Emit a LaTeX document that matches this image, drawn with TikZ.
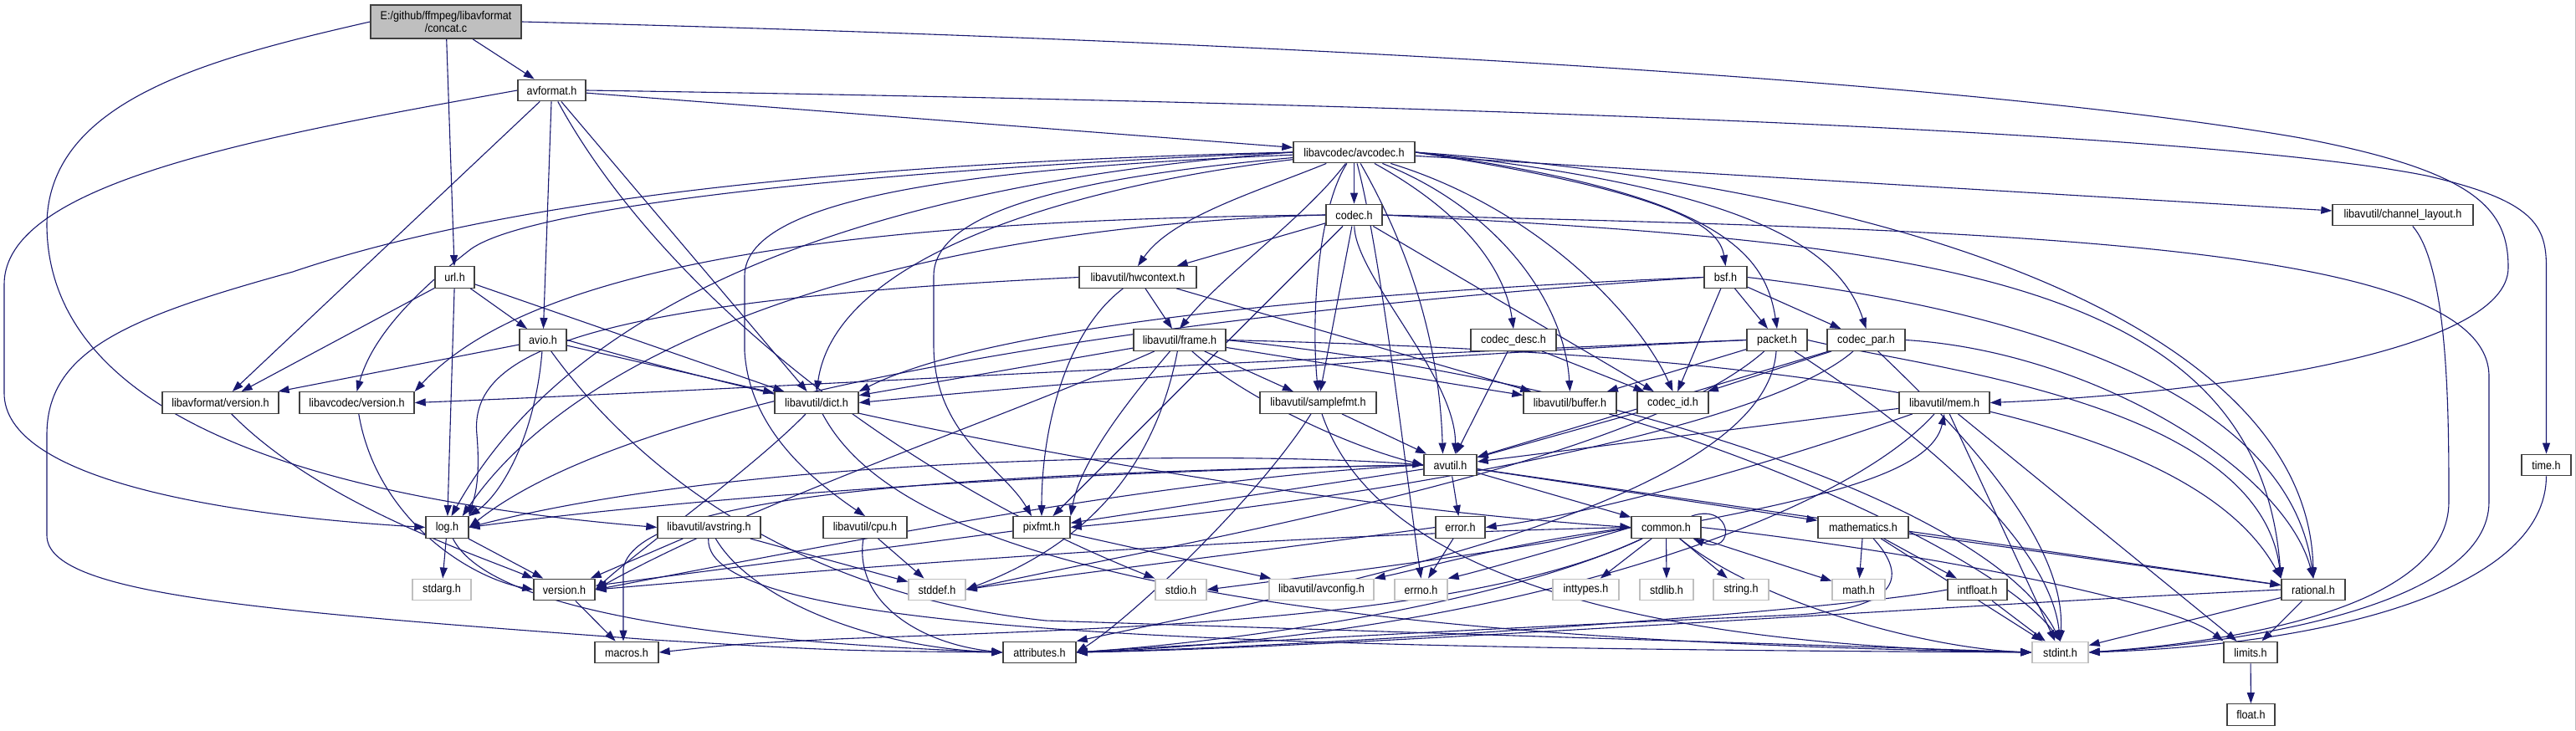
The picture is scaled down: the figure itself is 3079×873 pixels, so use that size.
\documentclass[tikz,border=0pt]{standalone}
\usepackage{fontspec}
\setmainfont{Liberation Sans}[FakeStretch=0.9]
\usetikzlibrary{arrows.meta,calc}
\definecolor{eb}{HTML}{191970}
\definecolor{nbd}{HTML}{404040}
\definecolor{gbd}{HTML}{BFBFBF}
\pgfdeclarelayer{back}
\pgfdeclarelayer{bg}
\pgfsetlayers{back,bg,main}
\tikzset{
  nb/.style={draw=nbd, line width=1.4pt, fill=white, inner sep=0pt, minimum height=25.5pt, font=\fontsize{14}{15.5}\selectfont},
  ng/.style={nb, draw=gbd},
  nr/.style={nb, fill=gbd, minimum height=40pt, align=center},
  e/.style={draw=eb, line width=1.1pt, -{Triangle[length=13pt,width=9pt]}},
}
\begin{document}
\begin{tikzpicture}[x=1pt,y=-1pt]
\useasboundingbox (0,0) rectangle (3079,873);
\begin{pgfonlayer}{back}
\fill[white] (0,0) rectangle (3079,873);
\draw[gbd, line width=0.8pt] (3078,0) -- (3078,873);
\end{pgfonlayer}
% nodes
\node[nr, minimum width=180pt] (concat) at (533,26) {E:/github/ffmpeg/libavformat\\/concat.c};
\node[nb, minimum width=81pt] (avformat) at (659.5,108) {avformat.h};
\node[nb, minimum width=145pt] (avcodec) at (1618.5,182) {libavcodec/avcodec.h};
\node[nb, minimum width=67pt] (codec) at (1618.5,257) {codec.h};
\node[nb, minimum width=168pt] (chlayout) at (2872,257) {libavutil/channel\_layout.h};
\node[nb, minimum width=47pt] (url) at (543.5,331.5) {url.h};
\node[nb, minimum width=140pt] (hwcontext) at (1360,331.5) {libavutil/hwcontext.h};
\node[nb, minimum width=51pt] (bsf) at (2062.5,331.5) {bsf.h};
\node[nb, minimum width=56pt] (avio) at (649,406.5) {avio.h};
\node[nb, minimum width=110pt] (frame) at (1410,406.5) {libavutil/frame.h};
\node[nb, minimum width=102pt] (codecdesc) at (1809,406.5) {codec\_desc.h};
\node[nb, minimum width=72pt] (packet) at (2124,406.5) {packet.h};
\node[nb, minimum width=93pt] (codecpar) at (2230.5,406.5) {codec\_par.h};
\node[nb, minimum width=139pt] (lavfversion) at (263.5,481.5) {libavformat/version.h};
\node[nb, minimum width=137pt] (lavcversion) at (426.5,481.5) {libavcodec/version.h};
\node[nb, minimum width=100pt] (dict) at (976,481.5) {libavutil/dict.h};
\node[nb, minimum width=139pt] (samplefmt) at (1575.5,481.5) {libavutil/samplefmt.h};
\node[nb, minimum width=111pt] (buffer) at (1876.5,481.5) {libavutil/buffer.h};
\node[nb, minimum width=85pt] (codecid) at (1999.5,481.5) {codec\_id.h};
\node[nb, minimum width=108pt] (mem) at (2324,481.5) {libavutil/mem.h};
\node[nb, minimum width=63pt] (avutil) at (1733.5,556) {avutil.h};
\node[nb, minimum width=59pt] (time) at (3043.5,556) {time.h};
\node[nb, minimum width=51pt] (log) at (534.5,630.5) {log.h};
\node[nb, minimum width=123pt] (avstring) at (847.5,630.5) {libavutil/avstring.h};
\node[nb, minimum width=100pt] (cpu) at (1034,630.5) {libavutil/cpu.h};
\node[nb, minimum width=68pt] (pixfmt) at (1245,630.5) {pixfmt.h};
\node[nb, minimum width=59pt] (error) at (1745.5,630.5) {error.h};
\node[nb, minimum width=83pt] (common) at (1991.5,630.5) {common.h};
\node[nb, minimum width=108pt] (mathematics) at (2227,630.5) {mathematics.h};
\node[ng, minimum width=70pt] (stdarg) at (528,705) {stdarg.h};
\node[nb, minimum width=73pt] (version) at (674.5,705) {version.h};
\node[ng, minimum width=68pt] (stddef) at (1120,705) {stddef.h};
\node[ng, minimum width=61pt] (stdio) at (1411.5,705) {stdio.h};
\node[ng, minimum width=125pt] (avconfig) at (1579.5,705) {libavutil/avconfig.h};
\node[ng, minimum width=63pt] (errno) at (1698.5,705) {errno.h};
\node[ng, minimum width=79pt] (inttypes) at (1895.5,705) {inttypes.h};
\node[ng, minimum width=64pt] (stdlib) at (1992,705) {stdlib.h};
\node[ng, minimum width=66pt] (string) at (2081,705) {string.h};
\node[ng, minimum width=63pt] (math) at (2221.5,705) {math.h};
\node[nb, minimum width=71pt] (intfloat) at (2363.5,705) {intfloat.h};
\node[nb, minimum width=76pt] (rational) at (2765,705) {rational.h};
\node[nb, minimum width=76pt] (macros) at (749,780) {macros.h};
\node[nb, minimum width=87pt] (attributes) at (1242.5,780) {attributes.h};
\node[ng, minimum width=67pt] (stdint) at (2462.5,780) {stdint.h};
\node[nb, minimum width=64pt] (limits) at (2690,780) {limits.h};
\node[nb, minimum width=57pt] (float) at (2690.5,854.5) {float.h};

\begin{pgfonlayer}{bg}
% concat.c
\draw[e] (concat) -- (avformat);
\draw[e] (concat) -- (url);
\draw[e] (concat.east) .. controls (1500,48) and (2350,95) .. (2750,165) .. controls (2960,205) and (2998,250) .. (2998,320) .. controls (2998,420) and (2650,470) .. (mem.east);
\draw[e] (concat.west) .. controls (250,70) and (56,120) .. (56,270) .. controls (58,470) and (300,590) .. (avstring.west);
% avformat.h
\draw[e] (avformat) -- (avcodec);
\draw[e] (avformat.east) .. controls (1500,120) and (2600,150) .. (2900,210) .. controls (3030,240) and (3043.5,270) .. (3043.5,320) -- (time.north);
\draw[e] (avformat.west) .. controls (300,165) and (5,220) .. (5,340) -- (5,470) .. controls (5,570) and (250,615) .. (log.west);
\draw[e] (avformat) -- (lavfversion);
\draw[e] (avformat) -- (avio);
\draw[e] (avformat) -- (dict);
\draw[e] (avformat) .. controls (780,330) and (1050,560) .. (stdio.north west);
% url.h
\draw[e] (url) -- (avio);
\draw[e] (url) -- (lavfversion);
\draw[e] (url) -- (log);
\draw[e] (url) -- (dict);
% avio.h
\draw[e] (avio) -- (lavfversion);
\draw[e] (avio) -- (dict);
\draw[e] (avio.east) .. controls (1000,500) and (1500,600) .. (common.west);
\draw[e] (avio) .. controls (640,520) and (600,590) .. (log.north east);
\draw[e] (avio) .. controls (760,560) and (950,710) .. (1250,742) .. controls (1800,760) and (2200,772) .. (stdint.west);
% version headers
\draw[e] (lavfversion) .. controls (380,600) and (560,660) .. (version.north west);
\draw[e] (lavcversion) .. controls (450,620) and (560,690) .. (version.west);
% avcodec.h
\draw[e] (avcodec) -- (codec);
\draw[e] (avcodec) -- (chlayout);
\draw[e] (avcodec.west) .. controls (1000,195) and (600,240) .. (350,325) .. controls (150,380) and (56,420) .. (56,520) -- (56,640) .. controls (56,710) and (300,730) .. (780,765) .. controls (1000,778) .. (attributes.west);
\draw[e] (avcodec.west) .. controls (1000,205) and (620,250) .. (560,300) .. controls (470,370) and (440,420) .. (lavcversion.north);
\draw[e] (avcodec.west) .. controls (1100,215) and (700,330) .. ($(log.north)+(5,0)$);
\draw[e] (avcodec) .. controls (1300,220) and (1000,300) .. (dict.north);
\draw[e] (avcodec) .. controls (1200,200) and (890,230) .. (890,330) -- (890,420) .. controls (895,500) and (950,560) .. (cpu.north);
\draw[e] (avcodec) .. controls (1250,215) and (1116,260) .. (1116,330) -- (1116,413) .. controls (1116,520) and (1200,560) .. ($(pixfmt.north)+(-12,0)$);
\draw[e] (avcodec) .. controls (1500,230) and (1400,260) .. (hwcontext.north);
\draw[e] (avcodec) .. controls (1560,260) and (1460,330) .. (frame.north);
\draw[e] (avcodec) .. controls (1575,250) and (1567,380) .. (samplefmt.north);
\draw[e] (avcodec) .. controls (1680,290) and (1720,400) .. ($(avutil.north)+(-9,0)$);
\draw[e] (avcodec) .. controls (1760,260) and (1800,330) .. (codecdesc.north);
\draw[e] (avcodec) .. controls (1790,250) and (1870,360) .. (buffer.north);
\draw[e] (avcodec) .. controls (1840,250) and (1960,380) .. (codecid.north);
\draw[e] (avcodec.east) .. controls (2000,230) and (2055,270) .. (bsf.north);
\draw[e] (avcodec.east) .. controls (2050,230) and (2110,300) .. (packet.north);
\draw[e] (avcodec.east) .. controls (2100,225) and (2200,300) .. (codecpar.north);
\draw[e] (avcodec.east) .. controls (2300,225) and (2760,400) .. (rational.north);
\draw[e] (avcodec) .. controls (1650,300) and (1680,560) .. (errno.north);
% codec.h
\draw[e] (codec) -- (hwcontext);
\draw[e] (codec) .. controls (1620,330) and (1740,450) .. ($(avutil.north)+(6,0)$);
\draw[e] (codec) -- (samplefmt);
\draw[e] (codec) -- (codecid);
\draw[e] (codec) -- (pixfmt);
\draw[e] (codec.west) .. controls (1100,270) and (700,400) .. ($(log.north east)+(-8,0)$);
\draw[e] (codec.west) .. controls (1100,262) and (650,300) .. (lavcversion.north east);
\draw[e] (codec.east) .. controls (2300,290) and (2700,330) .. (rational.north west);
\draw[e] (codec.east) .. controls (2400,275) and (2975,290) .. (2975,450) -- (2975,600) .. controls (2975,720) and (2700,768) .. (stdint.east);
% hwcontext.h
\draw[e] (hwcontext) -- (frame);
\draw[e] (hwcontext) -- (buffer);
\draw[e] (hwcontext.west) .. controls (700,360) and (560,420) .. (570,520) .. controls (575,580) and (565,600) .. (log.north east);
\draw[e] (hwcontext) .. controls (1270,400) and (1245,520) .. (pixfmt.north);
% frame.h
\draw[e] (frame) -- (dict);
\draw[e] (frame) -- (samplefmt);
\draw[e] (frame) -- (buffer);
\draw[e] (frame) .. controls (1480,470) and (1600,530) .. (avutil.west);
\draw[e] (frame) .. controls (1330,500) and (1290,560) .. (pixfmt.north east);
\draw[e] (frame) .. controls (1380,560) and (1300,650) .. (stddef.east);
\draw[e] (frame) .. controls (1200,500) and (900,600) .. (version.east);
\draw[e] (frame.east) .. controls (2000,420) and (2600,460) .. (rational.north west);
\draw[e] (frame.east) .. controls (1900,450) and (2380,600) .. (stdint.north);
% bsf.h
\draw[e] (bsf) -- (packet);
\draw[e] (bsf) -- (codecpar);
\draw[e] (bsf) -- (codecid);
\draw[e] (bsf.west) .. controls (1700,345) and (1200,380) .. (dict.north east);
\draw[e] (bsf.west) .. controls (1600,360) and (800,440) .. (log.east);
\draw[e] (bsf.east) .. controls (2500,380) and (2740,500) .. (rational.north);
% codec_desc.h
\draw[e] (codecdesc) -- (avutil);
\draw[e] (codecdesc) -- (codecid);
% packet.h
\draw[e] (packet) -- (buffer);
\draw[e] (packet.west) .. controls (1700,425) and (1300,455) .. (dict.east);
\draw[e] (packet.west) .. controls (1500,430) and (900,465) .. (lavcversion.east);
\draw[e] (packet) .. controls (2110,600) and (1600,700) .. (attributes.north east);
\draw[e] (packet) .. controls (1950,560) and (1400,650) .. (stddef.east);
\draw[e] (packet) .. controls (2300,520) and (2450,650) .. (stdint.north);
\draw[e] (packet.east) .. controls (2300,440) and (2700,480) .. (rational.north west);
% codec_par.h
\draw[e] (codecpar) -- (codecid);
\draw[e] (codecpar) -- (avutil);
\draw[e] (codecpar) .. controls (2100,520) and (1600,600) .. (pixfmt.east);
\draw[e] (codecpar.east) .. controls (2500,420) and (2730,560) .. (rational.north);
\draw[e] (codecpar) .. controls (2350,520) and (2470,650) .. (stdint.north);
% dict.h
\draw[e] (dict) .. controls (900,560) and (760,660) .. (version.east);
\draw[e] (dict) .. controls (1050,620) and (1300,762) .. (stdint.west);
% samplefmt.h
\draw[e] (samplefmt) -- (avutil);
\draw[e] (samplefmt) .. controls (1500,600) and (1350,740) .. (attributes.east);
\draw[e] (samplefmt) .. controls (1650,700) and (2000,772) .. (stdint.west);
% buffer.h, codec_id.h
\draw[e] (buffer) .. controls (2150,560) and (2400,680) .. (stdint.north);
\draw[e] (codecid) -- (avutil);
% mem.h
\draw[e] (mem) -- (avutil);
\draw[e] (mem) .. controls (2100,560) and (1900,615) .. (error.east);
\draw[e] (mem) .. controls (2200,620) and (1800,760) .. (attributes.east);
\draw[e] (mem) -- (limits);
\draw[e] (mem) -- (stdint);
% avutil.h
\draw[e] (avutil) -- (error);
\draw[e] (avutil) -- (common);
\draw[e] (avutil) -- (mathematics);
\draw[e] (avutil) -- (rational);
\draw[e] (avutil) -- (pixfmt);
\draw[e] (avutil.west) .. controls (1400,560) and (900,585) .. (log.east);
\draw[e] (avutil.west) .. controls (1400,570) and (1000,650) .. (version.east);
\draw[e] (avutil.west) .. controls (1200,565) and (760,585) .. (745,680) -- ($(macros.north)+(-4,0)$);
% log.h
\draw[e] (log) -- (stdarg);
\draw[e] (log) -- (version);
\draw[e] (log) .. controls (580,720) and (800,765) .. (attributes.west);
\draw[e] (log.east) .. controls (900,540) and (1500,540) .. (avutil.west);
% avstring.h
\draw[e] (avstring) -- (stddef);
\draw[e] (avstring) -- (version);
\draw[e] (avstring) .. controls (900,720) and (1050,775) .. (attributes.west);
\draw[e] (avstring) .. controls (840,760) and (1500,775) .. (stdint.west);
% cpu.h
\draw[e] (cpu) -- (stddef);
\draw[e] (cpu) .. controls (1020,720) and (1100,770) .. (attributes.west);
% pixfmt.h
\draw[e] (pixfmt) -- (avconfig);
\draw[e] (pixfmt) -- (version);
% error.h
\draw[e] (error) -- (errno);
\draw[e] (error.west) .. controls (1500,660) and (1250,690) .. (stddef.east);
% common.h
\draw[e] (common) -- (inttypes);
\draw[e] (common) -- (stdlib);
\draw[e] (common) -- (string);
\draw[e] (common) -- (math);
\draw[e] (common.west) .. controls (1850,660) and (1760,685) .. (errno.north east);
\draw[e] (common.west) .. controls (1800,650) and (1700,680) .. (avconfig.north east);
\draw[e] (common.west) .. controls (1800,660) and (1600,685) .. (stdio.east);
\draw[e] (common) .. controls (1800,720) and (1500,765) .. (attributes.east);
\draw[e] (common) .. controls (1750,745) and (1300,752) .. (1000,764) .. controls (880,770) .. (macros.east);
\draw[e] (common.west) .. controls (1500,640) and (1000,680) .. (version.east);
\draw[e] (common) .. controls (2100,720) and (2300,775) .. (stdint.west);
\draw[e] (common.east) .. controls (2300,660) and (2600,720) .. (limits.north west);
\draw[e] (common) .. controls (2200,590) and (2310,560) .. (mem.south);
\draw[e] ($(common.north east)+(-12,0)$) .. controls (2072,600) and (2075,665) .. ($(common.south east)+(-10,0)$);
% mathematics.h
\draw[e] (mathematics) -- (math);
\draw[e] (mathematics) -- (intfloat);
\draw[e] (mathematics) -- (rational);
\draw[e] (mathematics) -- (stdint);
\draw[e] (mathematics) .. controls (2290,700) and (2250,728) .. (2150,735) .. controls (1800,750) and (1400,772) .. (attributes.east);
% intfloat.h, rational.h, limits.h
\draw[e] (intfloat) -- (stdint);
\draw[e] (intfloat.west) .. controls (2200,730) and (1600,772) .. (attributes.east);
\draw[e] (rational) -- (stdint);
\draw[e] (rational) -- (limits);
\draw[e] (rational.west) .. controls (2300,725) and (1600,775) .. (attributes.east);
\draw[e] (limits) -- (float);
% channel_layout.h, time.h, version.h
\draw[e] (chlayout) .. controls (2927,320) and (2927,500) .. (2927,600) .. controls (2927,720) and (2700,765) .. (stdint.east);
\draw[e] (time) .. controls (3043,700) and (2800,770) .. (stdint.east);
\draw[e] (version) -- (macros);
\end{pgfonlayer}
\end{tikzpicture}
\end{document}
